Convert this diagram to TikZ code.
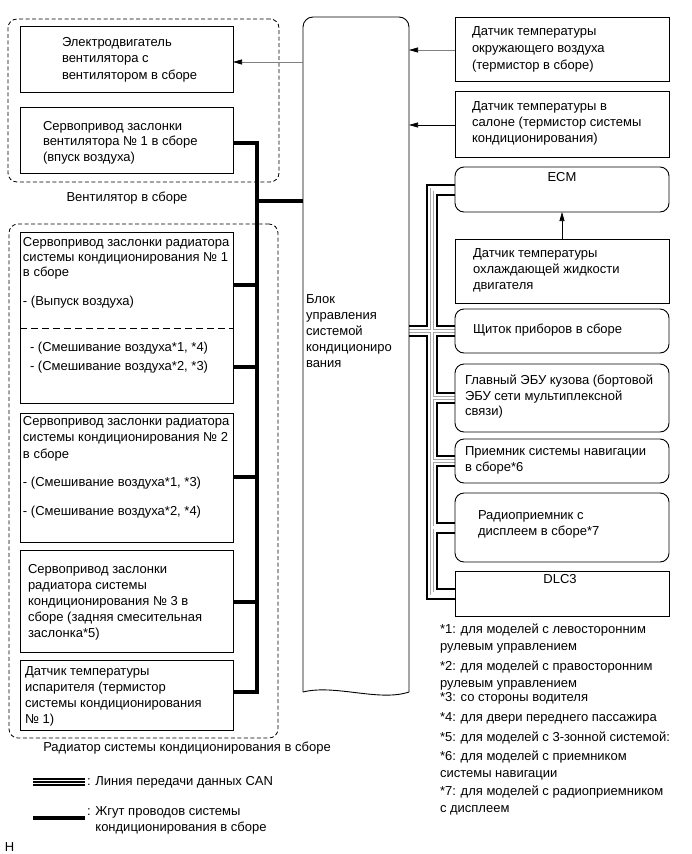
\documentclass[tikz,border=0pt]{standalone}
\usepackage{fontspec}
\setmainfont{Liberation Sans}
\usetikzlibrary{arrows.meta,calc,backgrounds}
\newcommand\mytxtfont{\fontsize{13}{16}\selectfont}
\begin{document}
\begin{tikzpicture}[x=1pt,y=-1pt,
  box/.style={draw, line width=0.9pt, rectangle, inner sep=0pt, outer sep=0pt, anchor=north west},
  rbox/.style={box, rounded corners=9pt},
  grp/.style={draw, line width=0.8pt, dash pattern=on 4pt off 2.5pt, rounded corners=9pt, rectangle, inner sep=0pt, outer sep=0pt, anchor=north west},
  txt/.style={inner sep=0pt, outer sep=0pt, align=left, anchor=north west, font=\fontsize{13}{#1}\selectfont},
  txt/.default=16,
  one/.style={inner sep=0pt, outer sep=0pt, anchor=base west, font=\mytxtfont},
  cen/.style={inner sep=0pt, outer sep=0pt, anchor=base, font=\mytxtfont},
  arr/.style={line width=0.6pt, -{Triangle[length=9pt,width=5pt,color=black]}},
  harness/.style={line width=4pt},
  canbus/.style={preaction={draw=black,line width=12pt}, preaction={draw=white,line width=8pt}, preaction={draw=gray!70,line width=3.6pt}, draw=white, line width=2.4pt},
  canleg/.style={preaction={draw=black,line width=8.4pt}, preaction={draw=white,line width=4pt}, draw=black, line width=1.2pt}]

\useasboundingbox (0,0) rectangle (691,854);

% ---------------- groups
\node[grp, minimum width=271pt, minimum height=163pt] (g1) at (8,19) {};
\node[grp, minimum width=269pt, minimum height=514pt] (g2) at (9,224) {};

% ---------------- left boxes
\node[box, minimum width=213pt, minimum height=66pt] (mot) at (20,26) {};
\node[box, minimum width=213pt, minimum height=66pt] (bsv) at (20,107) {};
\node[box, minimum width=213pt, minimum height=171pt] (b1) at (20,232) {};
\node[box, minimum width=213pt, minimum height=129pt] (b2) at (20,413) {};
\node[box, minimum width=213pt, minimum height=102pt] (b3) at (20,550) {};
\node[box, minimum width=213pt, minimum height=70pt] (b4) at (20,660) {};

% ---------------- ECU
\node[inner sep=0pt, outer sep=0pt, minimum width=106pt, minimum height=675pt, anchor=north west] (ecu) at (303,17) {};
\draw[line width=0.9pt, rounded corners=10pt] (ecu.south west) -- (ecu.north west) -- (ecu.north east) -- (ecu.south east);
\draw[line width=0.9pt] (ecu.south east) .. controls +(-30,10) and +(32,-8) .. (ecu.south west);

% ---------------- right boxes
\node[box, minimum width=214pt, minimum height=64pt] (amb) at (455,17) {};
\node[box, minimum width=214pt, minimum height=66pt] (room) at (455,91) {};
\node[rbox, minimum width=214pt, minimum height=45pt] (ecm) at (455,167) {};
\node[box, minimum width=214pt, minimum height=64pt] (cool) at (455,239) {};
\node[rbox, minimum width=214pt, minimum height=44pt] (meter) at (455,309) {};
\node[rbox, minimum width=214pt, minimum height=68pt] (bcm) at (455,364) {};
\node[rbox, minimum width=214pt, minimum height=44pt] (nav) at (455,439) {};
\node[rbox, minimum width=214pt, minimum height=69pt] (radio) at (455,493) {};
\node[box, minimum width=214pt, minimum height=45pt] (dlc) at (455,571) {};

% ---------------- texts
\node[txt=16.5] (tmot) at (62,37) {Электродвигатель\\вентилятора с\\вентилятором в сборе};
\node[txt=15.5] (tbsv) at (43,121) {Сервопривод заслонки\\вентилятора № 1 в сборе\\(впуск воздуха)};
\node[cen] (lblow) at (127,201.5) {Вентилятор в сборе};

\node[txt=15] (tb1) at (23,237) {Сервопривод заслонки радиатора\\системы кондиционирования № 1\\в сборе};
\node[one] (tb1a) at (23,305.5) {- (Выпуск воздуха)};
\node[one] (tb1b) at (30,351.5) {- (Смешивание воздуха*1, *4)};
\node[one] (tb1c) at (30,370.5) {- (Смешивание воздуха*2, *3)};
\draw[line width=0.8pt, dash pattern=on 7pt off 4pt] (b1.west |- 0,328) -- (b1.east |- 0,328);

\node[txt=16.5] (tb2) at (23,416) {Сервопривод заслонки радиатора\\системы кондиционирования № 2\\в сборе};
\node[one] (tb2a) at (23,486.5) {- (Смешивание воздуха*1, *3)};
\node[one] (tb2b) at (23,515.5) {- (Смешивание воздуха*2, *4)};

\node[txt=16] (tb3) at (28,564) {Сервопривод заслонки\\радиатора системы\\кондиционирования № 3 в\\сборе (задняя смесительная\\заслонка*5)};
\node[txt=15.7] (tb4) at (25,667) {Датчик температуры\\испарителя (термистор\\системы кондиционирования\\№ 1)};
\node[cen] (lrad) at (187,751.5) {Радиатор системы кондиционирования в сборе};

\node[txt=16] (tecu) at (306,295) {Блок\\управления\\системой\\кондициониро\\вания};

\node[txt=17] (tamb) at (472,27) {Датчик температуры\\окружающего воздуха\\(термистор в сборе)};
\node[txt=16] (troom) at (472,102) {Датчик температуры в\\салоне (термистор системы\\кондиционирования)};
\node[cen] (tecm) at (562,181.5) {ECM};
\node[txt=16] (tcool) at (473,249) {Датчик температуры\\охлаждающей жидкости\\двигателя};
\node[one] (tmeter) at (473,333.5) {Щиток приборов в сборе};
\node[txt=15.5] (tbcm) at (465,375) {Главный ЭБУ кузова (бортовой\\ЭБУ сети мультиплексной\\связи)};
\node[txt=16] (tnav) at (465,447) {Приемник системы навигации\\в сборе*6};
\node[txt=16] (tradio) at (478,511) {Радиоприемник с\\дисплеем в сборе*7};
\node[cen] (tdlc) at (560,583.5) {DLC3};

% ---------------- footnotes
\node[txt=16.5] (fn1) at (440,624) {*1: для моделей с левосторонним\\рулевым управлением};
\node[txt=16.5] (fn2) at (440,661) {*2: для моделей с правосторонним\\рулевым управлением};
\node[one] (fn3) at (440,701.5) {*3: со стороны водителя};
\node[one] (fn4) at (440,721.5) {*4: для двери переднего пассажира};
\node[one] (fn5) at (440,741.5) {*5: для моделей с 3-зонной системой:};
\node[txt=16.5] (fn6) at (440,751) {*6: для моделей с приемником\\системы навигации};
\node[txt=16.5] (fn7) at (440,786) {*7: для моделей с радиоприемником\\с дисплеем};

% ---------------- legend
\coordinate (lc1) at (33,782);
\coordinate (lc2) at (85,782);
\coordinate (lh1) at (33,818);
\coordinate (lh2) at (85,818);
\draw[canleg] (lc1) -- (lc2);
\draw[harness] (lh1) -- (lh2);
\node[one] (leg1) at (87,785.5) {: Линия передачи данных CAN};
\node[txt=16] (leg2) at (87,807) {: Жгут проводов системы\\\hphantom{: }кондиционирования в сборе};
\node[one] (code) at (5,851.5) {H};

% ---------------- arrows
\draw[arr, gray] (ecu.west |- 0,62) -- (mot.east |- 0,62);
\draw[arr, gray] (amb.west |- 0,50) -- (ecu.east |- 0,50);
\draw[arr] (room.west |- 0,125) -- (ecu.east |- 0,125);
\draw[arr] (cool.north) -- (ecm.south);

% ---------------- harness and CAN bus
\coordinate (htop) at (257,143);
\coordinate (hbot) at (257,692);
\coordinate (hecu) at (257,201);
\coordinate (hb1a) at (257,285);
\coordinate (hb1b) at (257,367);
\coordinate (hb2) at (257,477);
\coordinate (hb3) at (257,602);
\coordinate (busx) at (432,0);
\begin{pgfonlayer}{background}
\draw[harness] (bsv.east |- htop) -- (htop) -- (hbot) -- (b4.east |- hbot);
\draw[harness] (hecu) -- (ecu.west |- hecu);
\draw[harness] (b1.east |- hb1a) -- (hb1a);
\draw[harness] (b1.east |- hb1b) -- (hb1b);
\draw[harness] (b2.east |- hb2) -- (hb2);
\draw[harness] (b3.east |- hb3) -- (hb3);
\draw[canbus] (ecm.west) -- (ecm.west -| busx) -- (dlc.west -| busx) -- (dlc.west)
  (ecu.east |- meter.west) -- (meter.west)
  (bcm.west -| busx) -- (bcm.west)
  (nav.west -| busx) -- (nav.west)
  (radio.west -| busx) -- (radio.west);
\end{pgfonlayer}
\end{tikzpicture}
\end{document}
